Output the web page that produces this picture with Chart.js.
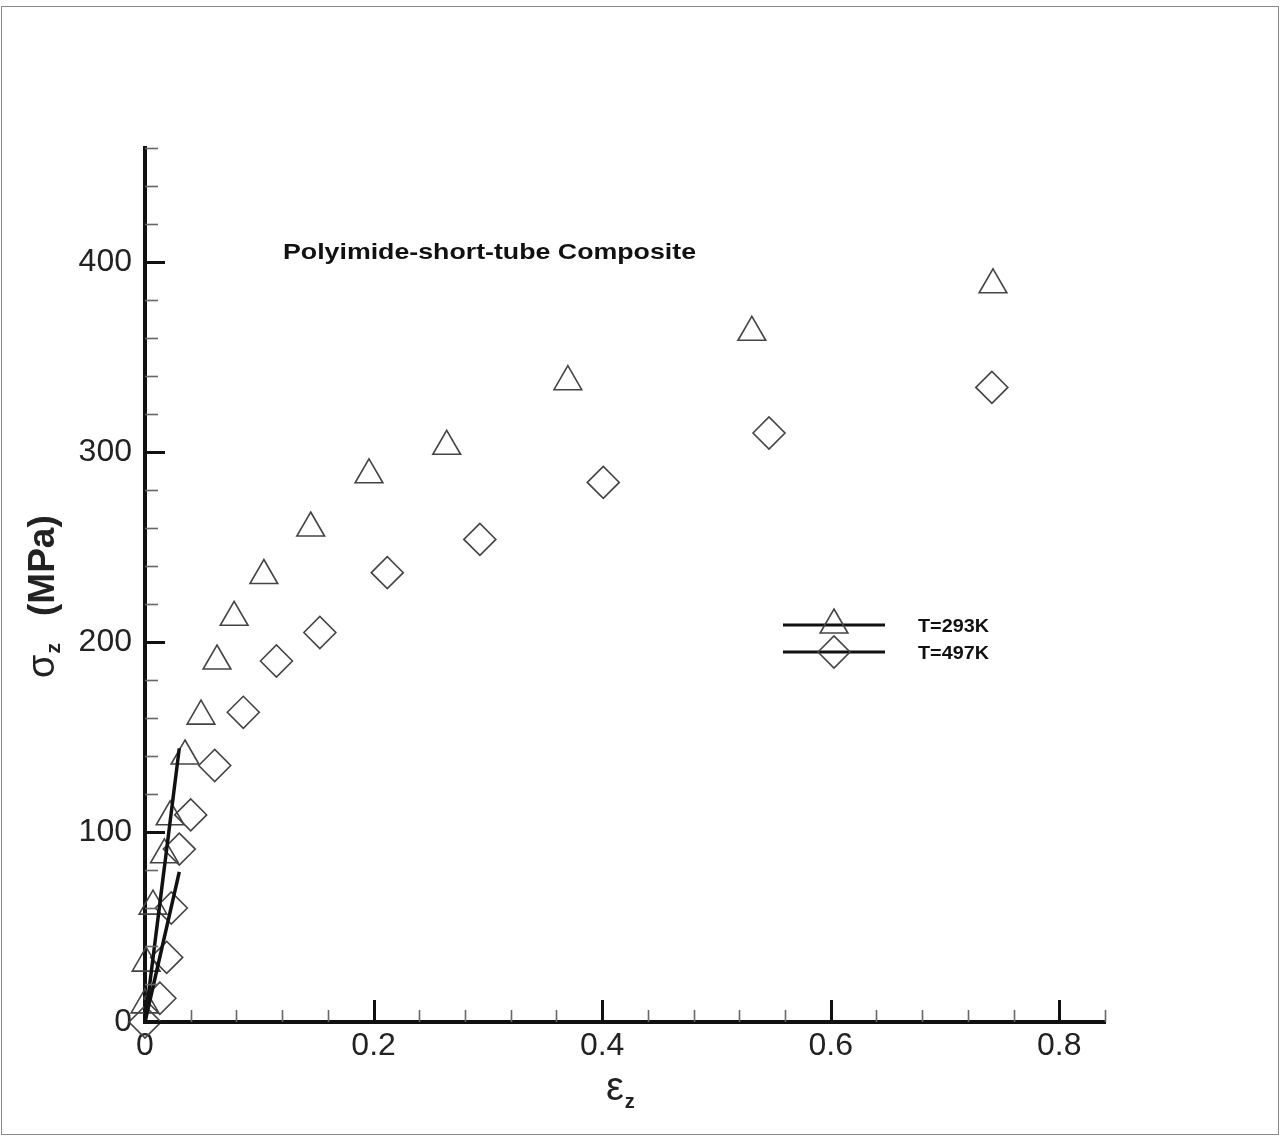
<!DOCTYPE html>
<html><head><meta charset="utf-8">
<script src="https://cdn.jsdelivr.net/npm/chart.js@4/dist/chart.umd.min.js"></script>
<style>html,body{margin:0;padding:0;background:#fff}canvas{display:block}</style>
</head><body>
<canvas id="c" width="1281" height="1137"></canvas>
<script>
// ---- data ----
const strain293 = [0.000, 0.001, 0.007, 0.017, 0.022, 0.035, 0.049, 0.063, 0.078, 0.104, 0.145, 0.196, 0.264, 0.370, 0.531, 0.742];
const stress293 = [9, 31, 61, 88, 108, 140, 161, 190, 213, 235, 260, 288, 303, 337, 363, 388];
const strain497 = [0.000, 0.013, 0.019, 0.023, 0.030, 0.040, 0.061, 0.086, 0.115, 0.153, 0.212, 0.293, 0.401, 0.546, 0.741];
const stress497 = [0, 12.5, 34, 60, 91, 109, 135, 163, 190, 205, 236.5, 254, 284, 310, 334];
const fitStrain = [0, 0.030];
const fitStress293 = [0, 144];
const fitStress497 = [0, 79];
const xTickValues = [0, 0.2, 0.4, 0.6, 0.8];
const xTickLabels = ['0', '0.2', '0.4', '0.6', '0.8'];
const yTickValues = [0, 100, 200, 300, 400];
const yTickLabels = ['0', '100', '200', '300', '400'];
const seriesNames = ['T=293K', 'T=497K'];
const chartTitle = 'Polyimide-short-tube Composite';
const xTitleMain = 'ε', xTitleSub = 'z';
const yTitleMain = 'σ', yTitleSub = 'z', yTitleUnit = '(MPa)';

const pts = (xs, ys) => xs.map((x, i) => ({x: x, y: ys[i]}));

function triPath(ctx, cx, cy, r) {
  ctx.beginPath();
  ctx.moveTo(cx, cy - r);
  ctx.lineTo(cx + Math.sin(2 * Math.PI / 3) * r, cy - Math.cos(2 * Math.PI / 3) * r);
  ctx.lineTo(cx + Math.sin(4 * Math.PI / 3) * r, cy - Math.cos(4 * Math.PI / 3) * r);
  ctx.closePath();
}
function diaPath(ctx, cx, cy, r) {
  ctx.beginPath();
  ctx.moveTo(cx - r, cy); ctx.lineTo(cx, cy - r); ctx.lineTo(cx + r, cy); ctx.lineTo(cx, cy + r);
  ctx.closePath();
}
function stretchText(ctx, text, x, y, font, targetW) {
  ctx.save();
  ctx.font = font;
  const w = ctx.measureText(text).width;
  ctx.translate(x, y);
  if (targetW) ctx.scale(targetW / w, 1);
  ctx.fillText(text, 0, 0);
  ctx.restore();
}

const decor = {
  id: 'decor',
  beforeDraw(chart) {
    const ctx = chart.ctx;
    ctx.save();
    ctx.fillStyle = '#fff';
    ctx.fillRect(0, 0, chart.width, chart.height);
    ctx.strokeStyle = '#8a8a8a';
    ctx.lineWidth = 1;
    ctx.strokeRect(1.5, 6.5, 1277, 1128);
    ctx.restore();
  },
  afterDraw(chart) {
    const ctx = chart.ctx;
    const xs = chart.scales.x, ys = chart.scales.y;
    const a = chart.chartArea;
    ctx.save();
    // x ticks (inward)
    for (let i = 0; i <= 21; i++) {
      const v = i * 0.04;
      const px = Math.round(xs.getPixelForValue(v)) + 0.5;
      const major = i % 5 === 0;
      ctx.strokeStyle = major ? '#111' : '#666';
      ctx.lineWidth = major ? 3 : 1.6;
      ctx.beginPath();
      ctx.moveTo(px, a.bottom);
      ctx.lineTo(px, a.bottom - (major ? 22 : 12));
      ctx.stroke();
    }
    // y ticks (inward)
    for (let i = 0; i <= 23; i++) {
      const v = i * 20;
      const py = Math.round(ys.getPixelForValue(v)) + 0.5;
      const major = i % 5 === 0;
      ctx.strokeStyle = major ? '#111' : '#666';
      ctx.lineWidth = major ? 3 : 1.6;
      ctx.beginPath();
      ctx.moveTo(a.left, py);
      ctx.lineTo(a.left + (major ? 20 : 13), py);
      ctx.stroke();
    }
    // title
    ctx.fillStyle = '#111';
    ctx.textAlign = 'left';
    ctx.textBaseline = 'alphabetic';
    stretchText(ctx, chartTitle, 283, 259, 'bold 22px "Liberation Sans", Arial, sans-serif', 413);
    // legend
    const lg = [{y: 625, shape: 'tri'}, {y: 652, shape: 'dia'}];
    lg.forEach((it, i) => {
      ctx.strokeStyle = '#111';
      ctx.lineWidth = 3;
      ctx.beginPath(); ctx.moveTo(783, it.y); ctx.lineTo(885, it.y); ctx.stroke();
      ctx.strokeStyle = '#444';
      ctx.lineWidth = 1.6;
      if (it.shape === 'tri') triPath(ctx, 834, it.y, 16); else diaPath(ctx, 834, it.y, 16);
      ctx.stroke();
      ctx.fillStyle = '#111';
      stretchText(ctx, seriesNames[i], 918, it.y + 7, 'bold 18px "Liberation Sans", Arial, sans-serif', 71);
    });
    // x axis title
    ctx.fillStyle = '#222';
    ctx.font = '40px "Liberation Sans", Arial, sans-serif';
    ctx.fillText(xTitleMain, 606, 1100);
    const ew = ctx.measureText(xTitleMain).width;
    ctx.font = 'bold 20px "Liberation Sans", Arial, sans-serif';
    ctx.fillText(xTitleSub, 606 + ew + 1, 1108);
    // y axis title
    ctx.save();
    ctx.translate(54, 678);
    ctx.rotate(-Math.PI / 2);
    ctx.font = '38px "Liberation Sans", Arial, sans-serif';
    ctx.fillText(yTitleMain, 0, 0);
    const sw = ctx.measureText(yTitleMain).width;
    ctx.font = 'bold 21px "Liberation Sans", Arial, sans-serif';
    ctx.fillText(yTitleSub, sw + 1, 6);
    ctx.font = 'bold 37px "Liberation Sans", Arial, sans-serif';
    ctx.fillText(yTitleUnit, 62, 0);
    ctx.restore();
    ctx.restore();
  }
};

const markerStyle = {showLine: false, pointBorderColor: '#444', pointBackgroundColor: 'rgba(0,0,0,0)',
  pointBorderWidth: 1.6, pointRadius: 16, pointHoverRadius: 16, clip: false};

new Chart(document.getElementById('c'), {
  type: 'scatter',
  data: {
    datasets: [
      {label: seriesNames[0] + ' fit', data: pts(fitStrain, fitStress293), showLine: true,
        borderColor: '#111', borderWidth: 3.5, pointRadius: 0, clip: false},
      {label: seriesNames[1] + ' fit', data: pts(fitStrain, fitStress497), showLine: true,
        borderColor: '#111', borderWidth: 3.5, pointRadius: 0, clip: false},
      Object.assign({label: seriesNames[0], data: pts(strain293, stress293), pointStyle: 'triangle'}, markerStyle),
      Object.assign({label: seriesNames[1], data: pts(strain497, stress497), pointStyle: 'rectRot'}, markerStyle)
    ]
  },
  options: {
    responsive: false,
    animation: false,
    events: [],
    layout: {padding: {left: 0, top: 148, right: 176, bottom: 0}},
    plugins: {legend: {display: false}, tooltip: {enabled: false}, title: {display: false}},
    scales: {
      x: {
        type: 'linear', min: 0, max: 0.84,
        grid: {display: false, drawTicks: false},
        border: {display: true, color: '#111', width: 4},
        afterBuildTicks: s => { s.ticks = xTickValues.map(v => ({value: v})); },
        afterFit: s => { s.height = 115; },
        ticks: {
          padding: 5, color: '#222', maxRotation: 0, autoSkip: false,
          font: {family: '"Liberation Sans", Arial, sans-serif', size: 32},
          callback: (v) => xTickLabels[xTickValues.indexOf(v)]
        }
      },
      y: {
        type: 'linear', min: 0, max: 460,
        grid: {display: false, drawTicks: false},
        border: {display: true, color: '#111', width: 4},
        afterBuildTicks: s => { s.ticks = yTickValues.map(v => ({value: v})); },
        afterFit: s => { s.width = 145; },
        ticks: {
          padding: 13, color: '#222', autoSkip: false,
          font: {family: '"Liberation Sans", Arial, sans-serif', size: 32},
          callback: (v) => yTickLabels[yTickValues.indexOf(v)]
        }
      }
    }
  },
  plugins: [decor]
});
</script>
</body></html>
